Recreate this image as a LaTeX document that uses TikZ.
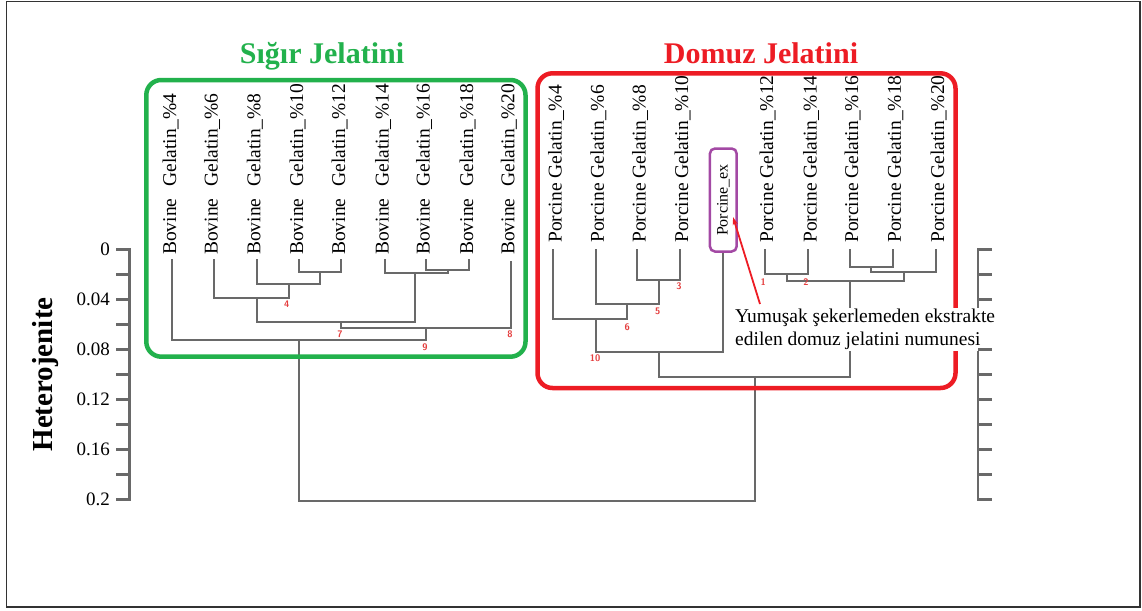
\documentclass[tikz,border=0pt]{standalone}
\usepackage{fontspec}
\setmainfont{Liberation Serif}
\usetikzlibrary{arrows.meta}
\definecolor{dgrey}{RGB}{105,105,105}
\definecolor{gbox}{RGB}{34,177,76}
\definecolor{rbox}{RGB}{237,28,36}
\definecolor{pbox}{RGB}{163,73,164}
\definecolor{rnum}{RGB}{228,62,62}
\tikzset{
  leaf/.style={rotate=90, anchor=west, inner sep=0pt, font=\fontsize{19.5}{23}\selectfont},
  den/.style={draw=dgrey, line width=2pt},
  axisl/.style={draw=dgrey, line width=2.4pt},
  num/.style={text=rnum, inner sep=0pt, font=\sffamily\bfseries\fontsize{9.5}{10}\selectfont},
  ticklab/.style={anchor=east, inner sep=0pt, font=\fontsize{19}{22}\selectfont},
  grp/.style={line width=4.5pt, rounded corners=15pt},
  grptitle/.style={anchor=base, inner sep=0pt, font=\bfseries\fontsize{30}{34}\selectfont},
  annot/.style={anchor=north west, align=left, fill=white, inner xsep=1pt, inner ysep=1.5pt, font=\fontsize{19.5}{23}\selectfont},
  pointer/.style={draw=rbox, line width=1.8pt, -{Stealth[length=8pt,width=5pt]}},
}
\begin{document}
\begin{tikzpicture}[x=1pt,y=-1pt]
\useasboundingbox (0,0) rectangle (1142,610);
\draw[black!80, line width=1.3pt] (6.5,1.5) rectangle (1140,607);

% ---------- left axis ----------
\draw[axisl] (116,249.3) -- (129.5,249.3) -- (129.5,499.3) -- (116,499.3);
\foreach \i in {1,...,9} \draw[axisl] (116,{249.3+25*\i}) -- (129.5,{249.3+25*\i});
\node[ticklab] (l0)  at (110,249.3) {0};
\node[ticklab] (l1)  at (110,299.3) {0.04};
\node[ticklab] (l2)  at (110,349.3) {0.08};
\node[ticklab] (l3)  at (110,399.3) {0.12};
\node[ticklab] (l4)  at (110,449.3) {0.16};
\node[ticklab] (l5)  at (110,499.3) {0.2};
\node[rotate=90, inner sep=0pt, font=\bfseries\fontsize{29}{32}\selectfont] (ytitle) at (46,374.5) {Heterojenite};

% ---------- right axis (line) ----------
\draw[axisl] (992,249.3) -- (978,249.3) -- (978,499.3) -- (992,499.3);
\draw[axisl] (978,324.3) -- (992,324.3);

% ---------- leaf coordinates ----------
\coordinate (lb4)  at (172.3,259);
\coordinate (lb6)  at (214,259);
\coordinate (lb8)  at (256.7,259);
\coordinate (lb10) at (299.3,259);
\coordinate (lb12) at (341.3,259);
\coordinate (lb14) at (385,259);
\coordinate (lb16) at (426,259);
\coordinate (lb18) at (469.3,259);
\coordinate (lb20) at (510.7,261);
\coordinate (lp4)  at (553.3,249);
\coordinate (lp6)  at (595.7,249);
\coordinate (lp8)  at (637.3,249);
\coordinate (lp10) at (680,249);
\coordinate (lp12) at (765,249);
\coordinate (lp14) at (808.3,249);
\coordinate (lp16) at (850,249);
\coordinate (lp18) at (892.7,249);
\coordinate (lp20) at (936,249);

% ---------- leaf labels ----------
\node[leaf] (tb4)  at (170.5,255) {Bovine\hspace{7pt} Gelatin\_\%4};
\node[leaf] (tb6)  at (212.2,255) {Bovine\hspace{7pt} Gelatin\_\%6};
\node[leaf] (tb8)  at (254.9,255) {Bovine\hspace{7pt} Gelatin\_\%8};
\node[leaf] (tb10) at (297.5,255) {Bovine\hspace{7pt} Gelatin\_\%10};
\node[leaf] (tb12) at (339.5,255) {Bovine\hspace{7pt} Gelatin\_\%12};
\node[leaf] (tb14) at (383.2,255) {Bovine\hspace{7pt} Gelatin\_\%14};
\node[leaf] (tb16) at (424.2,255) {Bovine\hspace{7pt} Gelatin\_\%16};
\node[leaf] (tb18) at (467.5,255) {Bovine\hspace{7pt} Gelatin\_\%18};
\node[leaf] (tb20) at (508.9,255) {Bovine\hspace{7pt} Gelatin\_\%20};
\node[leaf] (tp4)  at (556,243) {Porcine Gelatin\_\%4};
\node[leaf] (tp6)  at (598.4,243) {Porcine Gelatin\_\%6};
\node[leaf] (tp8)  at (640,243) {Porcine Gelatin\_\%8};
\node[leaf] (tp10) at (682.7,243) {Porcine Gelatin\_\%10};
\node[leaf] (tp12) at (767.7,243) {Porcine Gelatin\_\%12};
\node[leaf] (tp14) at (811,243) {Porcine Gelatin\_\%14};
\node[leaf] (tp16) at (852.7,243) {Porcine Gelatin\_\%16};
\node[leaf] (tp18) at (895.4,243) {Porcine Gelatin\_\%18};
\node[leaf] (tp20) at (938.7,243) {Porcine Gelatin\_\%20};
\node[rotate=90, draw=pbox, line width=2.5pt, rounded corners=5pt, minimum width=103pt, minimum height=26.7pt, inner sep=0pt, font=\fontsize{16}{18}\selectfont] (pex) at (723.3,200) {Porcine\_ex\hspace{11pt}};

% ---------- joins ----------
\coordinate (jb1) at (320.3,271.7);
\coordinate (jb2) at (289,284.3);
\coordinate (jb3) at (256.7,297.7);
\coordinate (jb4) at (447.7,270);
\coordinate (jb5) at (415.3,273.3);
\coordinate (jb6) at (341.3,321.7);
\coordinate (jb7) at (426,327.7);
\coordinate (jb8) at (299,340);
\coordinate (jp1) at (658.7,280);
\coordinate (jp2) at (627.3,304);
\coordinate (jp3) at (595.7,319.3);
\coordinate (jp4) at (658.7,351.7);
\coordinate (jp5) at (786.7,274);
\coordinate (jp6) at (871.3,267.3);
\coordinate (jp7) at (903.7,271.7);
\coordinate (jp8) at (850,280.7);
\coordinate (jp9) at (755,376.7);
\coordinate (root) at (527,501);

\draw[den] (lb10) |- (jb1) -| (lb12);
\draw[den] (lb8)  |- (jb2) -| (jb1);
\draw[den] (lb6)  |- (jb3) -| (jb2);
\draw[den] (lb16) |- (jb4) -| (lb18);
\draw[den] (lb14) |- (jb5) -| (jb4);
\draw[den] (jb3)  |- (jb6) -| (jb5);
\draw[den] (jb6)  |- (jb7) -| (lb20);
\draw[den] (lb4)  |- (jb8) -| (jb7);
\draw[den] (lp8)  |- (jp1) -| (lp10);
\draw[den] (lp6)  |- (jp2) -| (jp1);
\draw[den] (lp4)  |- (jp3) -| (jp2);
\draw[den] (jp3)  |- (jp4) -| (pex.west);
\draw[den] (lp12) |- (jp5) -| (lp14);
\draw[den] (lp16) |- (jp6) -| (lp18);
\draw[den] (jp6)  |- (jp7) -| (lp20);
\draw[den] (jp5)  |- (jp8) -| (jp7);
\draw[den] (jp4)  |- (jp9) -| (jp8);
\draw[den] (jb8)  |- (root) -| (jp9);

% ---------- cluster numbers ----------
\node[num] (n4)  at (286.7,304) {4};
\node[num] (n7)  at (340,334) {7};
\node[num] (n8)  at (510,334) {8};
\node[num] (n9)  at (425,347) {9};
\node[num] (n3)  at (679,286) {3};
\node[num] (n5)  at (657.7,311) {5};
\node[num] (n6)  at (627.3,326.7) {6};
\node[num] (n10) at (595,358) {10};
\node[num] (n1)  at (763.3,281.7) {1};
\node[num] (n2)  at (806,281.7) {2};

% ---------- group boxes ----------
\draw[grp, gbox] (146.3,80) rectangle (525.5,356.7);
\draw[grp, rbox] (537.5,73.3) rectangle (955.5,388);
\node[grptitle, text=gbox] (sig) at (322,63.3) {Sığır Jelatini};
\node[grptitle, text=rbox] (dom) at (761,63.3) {Domuz Jelatini};

% ---------- annotation ----------
\node[annot] (ann) at (734,307.5) {Yumuşak şekerlemeden ekstrakte\\edilen domuz jelatini numunesi};
\coordinate (annpt) at (760,304);
\coordinate (tip) at (733,217);
\draw[pointer] (annpt) -- (tip);

% ---------- right axis ticks ----------
\foreach \i in {0,1,2,4,5,6,7,8,9,10} \draw[axisl] (978,{249.3+25*\i}) -- (992,{249.3+25*\i});
\end{tikzpicture}
\end{document}
